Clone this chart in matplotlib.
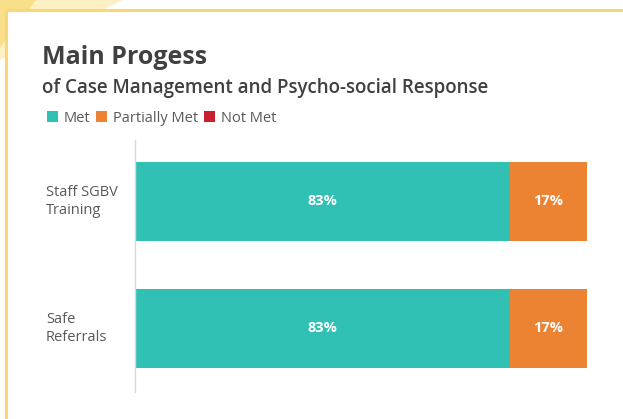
import matplotlib.pyplot as plt
from matplotlib.patches import Patch, Polygon, Rectangle
from matplotlib.transforms import blended_transform_factory

plt.rcParams['font.family'] = ['Open Sans', 'DejaVu Sans']

categories = ['Staff SGBV\nTraining', 'Safe\nReferrals']
met = [83, 83]
partially_met = [17, 17]
not_met = [0, 0]

series_names = ['Met', 'Partially Met', 'Not Met']
series_colors = ['#31c0b4', '#ec8332', '#c8202f']

W, H = 623, 419
fig = plt.figure(figsize=(W / 100, H / 100), dpi=100)
fig.patch.set_facecolor('white')

# card frame with the yellow accent in the corner
fig.add_artist(Polygon([(0, 1), (123 / W, 1), (0, 1 - 60 / H)], closed=True,
                       transform=fig.transFigure, facecolor='#fdf0c4', edgecolor='none', zorder=0))
fig.add_artist(Polygon([(0, 1), (36 / W, 1), (0, 1 - 48 / H)], closed=True,
                       transform=fig.transFigure, facecolor='#f9df8a', edgecolor='none', zorder=0))
fig.add_artist(Rectangle((6 / W, -0.01), 1.1, 1 - 10 / H + 0.01, transform=fig.transFigure,
                         facecolor='white', edgecolor='#f7d872', linewidth=2.2, zorder=0.5))

ax = fig.add_axes([135 / W, 1 - 392 / H, 452 / W, 252 / H])
ax.set_zorder(2)
ax.set_facecolor('none')

y = list(range(len(categories)))
h = 0.622
left = [0] * len(categories)
for vals, name, col in zip([met, partially_met, not_met], series_names, series_colors):
    ax.barh(y, vals, left=left, height=h, color=col, label=name)
    for yi, l, v in zip(y, left, vals):
        if v > 0:
            ax.text(l + v / 2, yi, f'{v}%', ha='center', va='center',
                    color='white', fontsize=10.5, fontweight='bold')
    left = [a + b for a, b in zip(left, vals)]

ax.set_xlim(0, 100)
ax.set_ylim(1.5, -0.484)
ax.set_xticks([])
ax.set_yticks([])
for s in ['top', 'right', 'bottom']:
    ax.spines[s].set_visible(False)
ax.spines['left'].set_color('#d9d9d9')
ax.spines['left'].set_linewidth(1.0)

# category labels sit at the far left of the card
label_tr = blended_transform_factory(fig.transFigure, ax.transData)
for yi, cat in zip(y, categories):
    ax.text(46 / W, yi, cat, transform=label_tr, ha='left', va='center',
            fontsize=10.5, color='#595959', linespacing=1.25)

fig.text(42 / W, 1 - 64 / H, 'Main Progess', fontsize=18, fontweight='bold',
         color='#404040', va='baseline', ha='left')
fig.text(42 / W, 1 - 93 / H, 'of Case Management and Psycho-social Response', fontsize=13.5,
         fontweight='semibold', color='#404040', va='baseline', ha='left')

handles = [Patch(facecolor=c, edgecolor='none', label=n) for n, c in zip(series_names, series_colors)]
fig.legend(handles=handles, loc='center left', bbox_to_anchor=(47 / W, 1 - 118 / H),
           ncol=3, frameon=False, fontsize=10.5, handlelength=0.75, handleheight=0.75,
           handletextpad=0.4, columnspacing=0.4, borderaxespad=0, borderpad=0,
           labelcolor='#595959')

fig.savefig('out.png', dpi=100)
